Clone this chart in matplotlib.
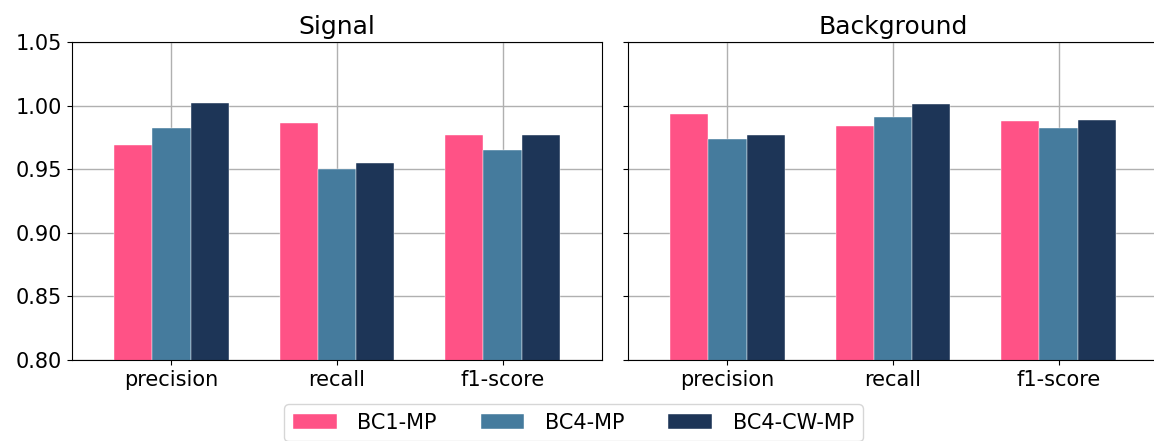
import matplotlib
matplotlib.use("Agg")
import matplotlib.pyplot as plt
import numpy as np

metrics = ["precision", "recall", "f1-score"]
models = ["BC1-MP", "BC4-MP", "BC4-CW-MP"]
colors = ["#FF5286", "#457B9D", "#1D3557"]

signal_bc1 = [0.969, 0.986, 0.977]
signal_bc4 = [0.982, 0.950, 0.965]
signal_cw = [1.002, 0.955, 0.977]

background_bc1 = [0.993, 0.984, 0.988]
background_bc4 = [0.974, 0.991, 0.982]
background_cw = [0.977, 1.001, 0.989]

panels = [("Signal", [signal_bc1, signal_bc4, signal_cw]),
          ("Background", [background_bc1, background_bc4, background_cw])]

fig = plt.figure(figsize=(11.54, 4.41), dpi=100)
ax1 = fig.add_axes([72 / 1154, 0.1837, 530 / 1154, 0.7211])
ax2 = fig.add_axes([628 / 1154, 0.1837, 530 / 1154, 0.7211], sharey=ax1)

x = np.arange(len(metrics))
w = 0.231
for ax, (title, series) in zip([ax1, ax2], panels):
    ax.set_axisbelow(True)
    ax.grid(True, color="#b0b0b0", linewidth=1.0)
    for i, (vals, c, name) in enumerate(zip(series, colors, models)):
        ax.bar(x + (i - 1) * w, vals, w, color=c, label=name,
               edgecolor="white", linewidth=0.3)
    ax.set_xticks(x)
    ax.set_xticklabels(metrics, fontsize=15)
    ax.set_xlim(-0.6, 2.6)
    ax.set_title(title, fontsize=18)
    ax.tick_params(axis="both", labelsize=15)

ax1.set_ylim(0.80, 1.05)
ax1.set_yticks([0.80, 0.85, 0.90, 0.95, 1.00, 1.05])
ax1.set_yticklabels(["0.80", "0.85", "0.90", "0.95", "1.00", "1.05"])
plt.setp(ax2.get_yticklabels(), visible=False)

handles, labels = ax1.get_legend_handles_labels()
fig.legend(handles, labels, loc="lower center", bbox_to_anchor=(0.497, 0.0),
           ncol=3, fontsize=15, handlelength=2.1, handletextpad=1.0,
           columnspacing=2.1, borderaxespad=0.0)

fig.savefig("out.png", dpi=100)
